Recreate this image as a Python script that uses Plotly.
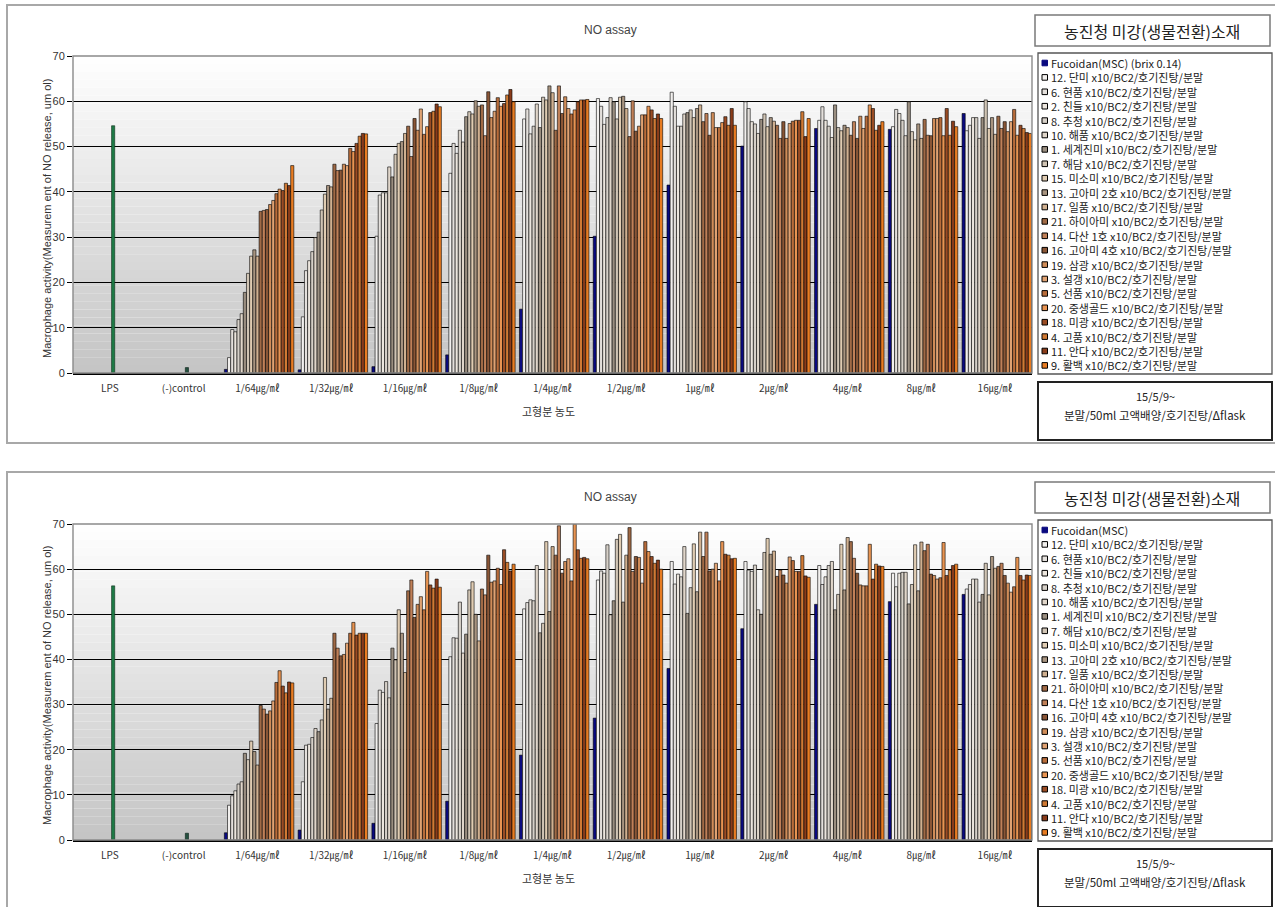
import plotly.graph_objects as go

W, H = 1275, 907

CATEGORIES = ["LPS", "(-)control", "1/64㎍/㎖", "1/32㎍/㎖", "1/16㎍/㎖", "1/8㎍/㎖",
              "1/4㎍/㎖", "1/2㎍/㎖", "1㎍/㎖", "2㎍/㎖", "4㎍/㎖", "8㎍/㎖", "16㎍/㎖"]
CONCENTRATIONS = CATEGORIES[2:]

FUCOIDAN_TOP = "Fucoidan(MSC) (brix 0.14)"
FUCOIDAN_BOTTOM = "Fucoidan(MSC)"
SAMPLE_LABELS = [
    "12. 단미 x10/BC2/호기진탕/분말", "6. 현품 x10/BC2/호기진탕/분말",
    "2. 친들 x10/BC2/호기진탕/분말", "8. 추청 x10/BC2/호기진탕/분말",
    "10. 해품 x10/BC2/호기진탕/분말", "1. 세계진미 x10/BC2/호기진탕/분말",
    "7. 해담 x10/BC2/호기진탕/분말", "15. 미소미 x10/BC2/호기진탕/분말",
    "13. 고아미 2호 x10/BC2/호기진탕/분말", "17. 일품 x10/BC2/호기진탕/분말",
    "21. 하이아미 x10/BC2/호기진탕/분말", "14. 다산 1호 x10/BC2/호기진탕/분말",
    "16. 고아미 4호 x10/BC2/호기진탕/분말", "19. 삼광 x10/BC2/호기진탕/분말",
    "3. 설갱 x10/BC2/호기진탕/분말", "5. 선품 x10/BC2/호기진탕/분말",
    "20. 중생골드 x10/BC2/호기진탕/분말", "18. 미광 x10/BC2/호기진탕/분말",
    "4. 고품 x10/BC2/호기진탕/분말", "11. 안다 x10/BC2/호기진탕/분말",
    "9. 활백 x10/BC2/호기진탕/분말",
]
SERIES_COLORS = [
    "#0A0A80",
    "#F2F0EE", "#E4E0DC", "#ECE6DE", "#D6D0C8", "#E0D6CA", "#9A8E80", "#D0C4B4",
    "#E0CCB2", "#A89480", "#D0B090", "#A06A46", "#C08058", "#8A5636", "#D08C58",
    "#E0A272", "#B86C3A", "#E89452", "#9A4C24", "#D07A34", "#8A3C1A", "#E87C22",
]
LPS_COLOR = "#1E7A46"
CONTROL_COLOR = "#24503F"

# ---- top panel values ----
TOP_LPS = [54.6]
TOP_CONTROL = [1.2]
TOP_1_64 = [0.8, 3.4, 9.6, 9.1, 11.8, 13.1, 17.8, 22.0, 25.8, 27.2, 25.8, 35.7, 35.9, 36.1, 37.2, 38.1, 39.6, 40.6, 40.3, 41.9, 41.4, 45.8]
TOP_1_32 = [0.7, 12.4, 22.6, 24.8, 26.8, 29.9, 31.1, 36.0, 39.5, 41.4, 41.1, 46.1, 44.7, 44.8, 46.1, 45.8, 49.6, 48.9, 50.7, 52.3, 52.9, 52.8]
TOP_1_16 = [1.4, 30.2, 39.3, 39.8, 39.8, 45.5, 43.3, 48.3, 50.7, 51.1, 52.9, 54.5, 47.8, 56.2, 53.6, 58.3, 52.7, 54.4, 57.5, 57.8, 59.4, 58.8]
TOP_1_8 = [4.0, 44.1, 50.7, 48.5, 53.6, 51.0, 56.6, 57.7, 57.2, 60.1, 58.9, 59.2, 52.4, 62.1, 56.4, 57.8, 60.8, 58.9, 59.5, 61.4, 62.6, 59.9]
TOP_1_4 = [14.1, 56.1, 58.3, 52.8, 54.5, 59.4, 54.2, 60.9, 60.3, 63.4, 61.9, 53.6, 63.4, 57.3, 61.0, 58.4, 57.2, 58.1, 59.9, 60.3, 60.3, 60.4]
TOP_1_2 = [30.2, 60.6, 58.9, 54.9, 56.4, 60.8, 59.9, 56.1, 60.9, 61.1, 58.4, 52.2, 60.1, 53.4, 54.5, 57.0, 57.0, 58.9, 58.1, 56.2, 57.2, 56.2]
TOP_1 = [41.5, 62.0, 58.9, 54.5, 54.5, 57.2, 57.5, 58.1, 56.4, 58.4, 59.2, 55.5, 57.3, 52.5, 57.5, 54.2, 54.2, 55.3, 56.6, 54.7, 58.4, 54.7]
TOP_2 = [50.1, 59.9, 58.4, 55.5, 55.0, 52.9, 56.0, 57.2, 54.4, 56.4, 55.6, 54.7, 51.8, 55.5, 51.8, 55.1, 55.6, 55.8, 55.8, 57.7, 52.2, 56.2]
TOP_4 = [54.0, 55.8, 58.8, 55.8, 54.5, 52.0, 59.2, 54.2, 53.5, 54.7, 54.2, 52.5, 55.5, 51.8, 56.7, 54.0, 56.7, 59.2, 58.4, 53.6, 54.7, 55.5]
TOP_8 = [53.8, 54.4, 58.2, 57.3, 55.8, 52.4, 59.9, 53.3, 51.5, 55.0, 51.8, 56.0, 52.5, 52.4, 56.2, 56.2, 56.4, 52.4, 58.4, 52.5, 55.6, 54.4]
TOP_16 = [57.3, 53.5, 54.7, 56.4, 56.4, 51.8, 56.4, 60.3, 54.0, 56.4, 52.7, 56.7, 54.0, 55.5, 53.3, 55.5, 58.2, 52.5, 54.7, 54.0, 53.1, 52.9]

# ---- bottom panel values ----
BOTTOM_LPS = [56.3]
BOTTOM_CONTROL = [1.5]
BOTTOM_1_64 = [1.6, 7.7, 9.8, 10.9, 12.4, 12.9, 19.2, 17.8, 21.9, 19.6, 16.6, 29.8, 29.0, 27.9, 28.6, 30.8, 34.9, 37.5, 34.1, 32.6, 35.0, 34.8]
BOTTOM_1_32 = [2.2, 12.9, 21.0, 21.2, 22.7, 24.7, 24.0, 26.6, 36.0, 29.0, 31.4, 45.8, 42.5, 40.8, 41.1, 43.6, 45.8, 48.2, 45.4, 45.8, 45.8, 45.8]
BOTTOM_1_16 = [3.7, 25.8, 33.2, 32.7, 35.1, 31.5, 42.5, 39.9, 51.0, 45.8, 37.1, 55.2, 57.6, 49.3, 52.2, 53.9, 51.0, 59.5, 56.5, 55.8, 57.8, 56.0]
BOTTOM_1_8 = [8.6, 40.6, 44.8, 44.7, 52.7, 41.4, 45.6, 55.4, 57.2, 50.0, 44.1, 55.6, 54.3, 63.1, 57.1, 57.4, 60.2, 56.6, 64.3, 61.5, 59.6, 61.1]
BOTTOM_1_4 = [18.8, 51.2, 52.6, 53.2, 53.0, 60.8, 45.9, 48.0, 66.1, 50.6, 65.0, 63.1, 69.6, 59.1, 61.7, 62.3, 57.4, 70.0, 64.3, 62.4, 62.6, 62.3]
BOTTOM_1_2 = [27.0, 57.6, 59.6, 59.1, 65.4, 49.9, 53.0, 66.6, 67.7, 52.7, 63.1, 69.2, 59.5, 62.8, 62.6, 56.9, 66.1, 63.9, 62.8, 61.3, 62.0, 60.0]
BOTTOM_1 = [38.0, 61.7, 56.7, 58.9, 58.3, 65.0, 50.2, 55.9, 65.6, 55.0, 68.2, 62.8, 68.2, 59.6, 60.0, 61.3, 57.4, 66.1, 63.3, 63.1, 62.3, 62.4]
BOTTOM_2 = [46.8, 61.7, 59.8, 59.5, 60.9, 51.0, 50.0, 63.7, 66.8, 63.3, 64.0, 58.4, 59.8, 58.7, 56.9, 62.7, 61.9, 59.5, 59.5, 63.0, 58.5, 58.2]
BOTTOM_4 = [52.2, 60.8, 56.6, 58.3, 60.8, 61.7, 51.0, 54.4, 65.5, 55.4, 67.0, 66.1, 62.4, 59.1, 56.5, 56.3, 56.3, 65.5, 57.8, 61.1, 60.7, 60.6]
BOTTOM_8 = [52.8, 59.1, 56.1, 59.1, 59.3, 59.3, 52.3, 56.6, 65.4, 55.2, 66.0, 64.1, 65.5, 58.9, 58.6, 57.8, 58.1, 65.9, 58.6, 59.8, 60.8, 61.1]
BOTTOM_16 = [54.4, 55.6, 56.6, 57.8, 57.8, 52.7, 54.4, 61.3, 54.3, 62.8, 60.2, 60.6, 61.3, 58.6, 56.9, 54.9, 56.1, 62.6, 58.6, 57.6, 58.7, 58.6]

TOP_GROUPS = [TOP_1_64, TOP_1_32, TOP_1_16, TOP_1_8, TOP_1_4, TOP_1_2, TOP_1, TOP_2, TOP_4, TOP_8, TOP_16]
BOTTOM_GROUPS = [BOTTOM_1_64, BOTTOM_1_32, BOTTOM_1_16, BOTTOM_1_8, BOTTOM_1_4, BOTTOM_1_2,
                 BOTTOM_1, BOTTOM_2, BOTTOM_4, BOTTOM_8, BOTTOM_16]

NS = len(SERIES_COLORS)
BW = 0.0428
OFF0 = -0.448

def xp(px):
    return px / W

def yp(py):
    return 1 - py / H

fig = go.Figure()

def add_panel(groups, lps, ctrl, names, xa, ya):
    for i in range(NS):
        fig.add_trace(go.Bar(
            x=CONCENTRATIONS, y=[g[i] for g in groups], name=names[i],
            xaxis=xa, yaxis=ya, width=BW, offset=OFF0 + i * BW,
            marker=dict(color=SERIES_COLORS[i], line=dict(color="#000000", width=0.6)),
            showlegend=False))
    fig.add_trace(go.Bar(x=["LPS"], y=lps, name="LPS", xaxis=xa, yaxis=ya, width=BW,
                         offset=OFF0 + 11 * BW,
                         marker=dict(color=LPS_COLOR, line=dict(color="#0B2E18", width=0.6)),
                         showlegend=False))
    fig.add_trace(go.Bar(x=["(-)control"], y=ctrl, name="(-)control", xaxis=xa, yaxis=ya,
                         width=BW, offset=OFF0 + 11 * BW,
                         marker=dict(color=CONTROL_COLOR, line=dict(color="#0B2018", width=0.6)),
                         showlegend=False))

names_top = [FUCOIDAN_TOP] + SAMPLE_LABELS
names_bottom = [FUCOIDAN_BOTTOM] + SAMPLE_LABELS
add_panel(TOP_GROUPS, TOP_LPS, TOP_CONTROL, names_top, "x", "y")
add_panel(BOTTOM_GROUPS, BOTTOM_LPS, BOTTOM_CONTROL, names_bottom, "x2", "y2")

XL, XR = 73, 1032
PANELS = [
    dict(dy=0, y0=373, y1=56, xa="x", ya="y", names=names_top),
    dict(dy=467, y0=840, y1=524, xa="x2", ya="y2", names=names_bottom),
]

def xaxis_cfg(anchor):
    return dict(domain=[xp(XL), xp(XR)], anchor=anchor, type="category",
                categoryorder="array", categoryarray=CATEGORIES, range=[-0.5, 12.5],
                showgrid=False, showline=True, linecolor="#000000", linewidth=1.5,
                ticks="", ticklabelstandoff=5, automargin=False,
                tickfont=dict(family="Noto Sans CJK KR", size=10, color="#333333"),
                fixedrange=True)

def yaxis_cfg(anchor, p):
    return dict(domain=[yp(p["y0"]), yp(p["y1"])], anchor=anchor, range=[0, 70],
                tickvals=[0, 10, 20, 30, 40, 50, 60, 70], showgrid=True,
                gridcolor="#000000", gridwidth=1, zeroline=False, showline=False,
                ticks="outside", ticklen=5, tickcolor="#000000", tickwidth=1,
                automargin=False,
                tickfont=dict(family="Liberation Sans", size=11, color="#333333"),
                fixedrange=True)

def note(text, px, py, size, family="Noto Sans CJK KR", color="#222222", angle=0,
         xanchor="center"):
    return dict(text=text, x=xp(px), y=yp(py), xref="paper", yref="paper",
                xanchor=xanchor, yanchor="middle", showarrow=False, textangle=angle,
                font=dict(family=family, size=size, color=color))

shapes = []
annotations = []
NSTRIP = 40
for p in PANELS:
    dy = p["dy"]
    xd = p["xa"] + " domain"
    yd = p["ya"] + " domain"
    # gradient background of plot area
    for j in range(NSTRIP):
        t = (j + 0.5) / NSTRIP
        v = int(round(196 + 59 * t))
        shapes.append(dict(type="rect", xref=xd, yref=yd, x0=0, x1=1, y0=j / NSTRIP,
                           y1=(j + 1) / NSTRIP, fillcolor=f"rgb({v},{v},{v})",
                           line=dict(width=0), layer="below"))
    # plot frame
    shapes.append(dict(type="rect", xref=xd, yref=yd, x0=0, x1=1, y0=0, y1=1,
                       line=dict(color="#8A8A8A", width=1.4), layer="above"))
    # panel border
    shapes.append(dict(type="rect", xref="paper", yref="paper", x0=xp(7), x1=xp(1285),
                       y0=yp(443 + dy), y1=yp(5 + dy),
                       line=dict(color="#A8A8A8", width=2)))
    # title box
    shapes.append(dict(type="rect", xref="paper", yref="paper", x0=xp(1035), x1=xp(1270),
                       y0=yp(46 + dy), y1=yp(15 + dy),
                       line=dict(color="#7A7A7A", width=1.5), fillcolor="white"))
    # legend box
    shapes.append(dict(type="rect", xref="paper", yref="paper", x0=xp(1038), x1=xp(1272),
                       y0=yp(374 + dy), y1=yp(53 + dy),
                       line=dict(color="#555555", width=1.3), fillcolor="white"))
    # note box
    shapes.append(dict(type="rect", xref="paper", yref="paper", x0=xp(1038), x1=xp(1272),
                       y0=yp(440 + dy), y1=yp(382 + dy),
                       line=dict(color="#222222", width=2), fillcolor="white"))

    annotations.append(note("NO assay", 610, 30 + dy, 12, family="Liberation Sans",
                            color="#444444"))
    annotations.append(note("고형분 농도", 548, 411 + dy, 11, color="#333333"))
    annotations.append(note("Macrophage activity(Measurem ent of NO release, um ol)",
                            47, 219 + dy, 11, family="Liberation Sans", color="#333333",
                            angle=-90))
    annotations.append(note("농진청 미강(생물전환)소재", 1152, 31 + dy, 16))
    annotations.append(note("15/5/9~", 1155, 396 + dy, 11))
    annotations.append(note("분말/50ml 고액배양/호기진탕/Δflask", 1155, 415 + dy, 11.5))
    # legend entries
    for i, nm in enumerate(p["names"]):
        cy = 63 + dy + i * 14.4
        shapes.append(dict(type="rect", xref="paper", yref="paper", x0=xp(1042), x1=xp(1047.5),
                           y0=yp(cy + 2.8), y1=yp(cy - 2.8), fillcolor=SERIES_COLORS[i],
                           line=dict(color="#000000" if i else SERIES_COLORS[i], width=1)))
        annotations.append(note(nm, 1049, cy, 11, xanchor="left"))

fig.update_layout(
    width=W, height=H, margin=dict(l=0, r=0, t=0, b=0, autoexpand=False),
    paper_bgcolor="white", plot_bgcolor="rgba(0,0,0,0)",
    barmode="overlay", showlegend=False,
    xaxis=xaxis_cfg("y"), yaxis=yaxis_cfg("x", PANELS[0]),
    xaxis2=xaxis_cfg("y2"), yaxis2=yaxis_cfg("x2", PANELS[1]),
    shapes=shapes, annotations=annotations,
)

fig.write_html("out.html", config={"displayModeBar": False},
               post_script="document.body.style.margin='0';document.body.style.overflow='hidden';")
